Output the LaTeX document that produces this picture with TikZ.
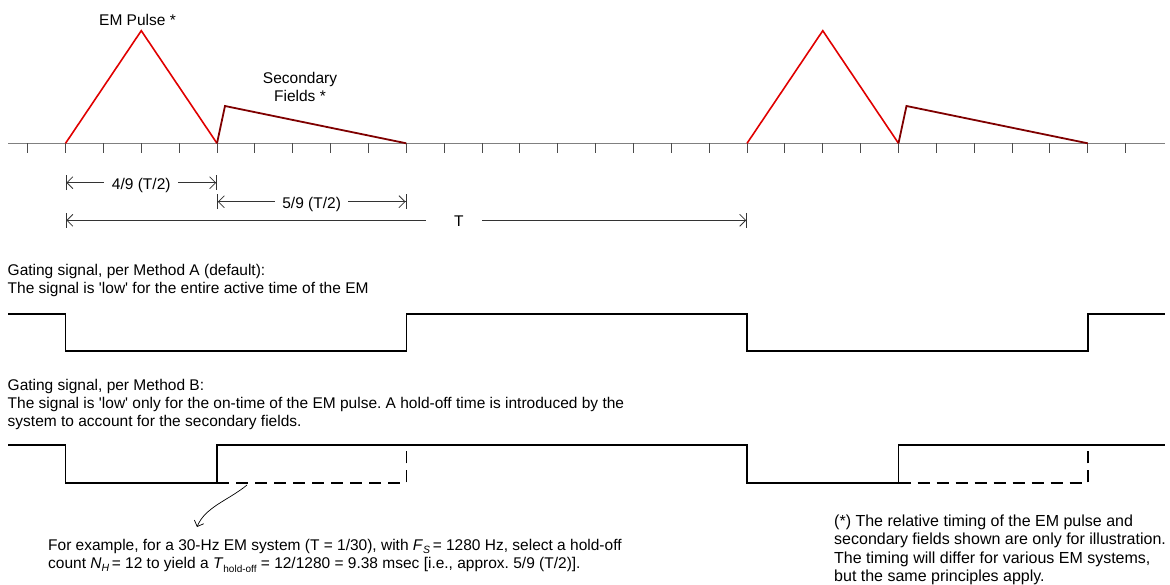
\documentclass[tikz,border=0pt]{standalone}
\usepackage{fontspec}
\setmainfont{Liberation Sans}
\usetikzlibrary{arrows.meta}
\definecolor{pulsered}{HTML}{E00000}
\definecolor{secred}{HTML}{7F0000}
\definecolor{axisgray}{HTML}{808080}
\newcommand{\mysub}[2][3.5pt]{\raisebox{-#1}{\fontsize{10.5}{10.5}\selectfont #2}}
\frenchspacing
\begin{document}
\begin{tikzpicture}[x=1pt,y=-1pt,
  txt/.style={font=\fontsize{15.5}{18.4}\selectfont, inner sep=0pt, anchor=base west},
  ctxt/.style={font=\fontsize{15.5}{18.4}\selectfont, inner sep=0pt, anchor=base},
  fntxt/.style={font=\fontsize{16}{18.4}\selectfont, inner sep=0pt, anchor=base west},
  axisline/.style={draw=axisgray, line width=1.5pt},
  tickmark/.style={draw=black!70, line width=1pt},
  pulse/.style={draw=pulsered, line width=1.6pt, line join=miter},
  secondary/.style={draw=secred, line width=1.8pt, line join=miter},
  dimline/.style={draw=black!80, line width=0.8pt,
    {Bar[width=15pt]Straight Barb[length=6pt,width=12pt]}-{Straight Barb[length=6pt,width=12pt]Bar[width=15pt]}},
  dimlabel/.style={fill=white, inner xsep=7.5pt, inner ysep=0pt, anchor=base, yshift=-6.5pt,
    font=\fontsize{15.5}{18.4}\selectfont},
  gate/.style={draw=black, line width=1.5pt, line join=miter},
  holdoff/.style={draw=black, line width=1.5pt, dash pattern=on 12pt off 7pt},
  note/.style={draw=black, line width=0.7pt, -{Straight Barb[length=5pt,width=10pt]}}
]
\useasboundingbox (0,0) rectangle (1170,584);

% ---------- time axis ----------
\coordinate (ax0) at (8,143.3);
\coordinate (ax1) at (1165,143.3);
\draw[axisline] (ax0) -- (ax1);
\foreach \i in {0,...,29}{
  \coordinate (t\i) at ({27.7+37.86*\i},143.3);
  \draw[tickmark] (t\i) -- ++(0,10);
}

% ---------- pulses ----------
\coordinate (pk1) at ({27.7+37.86*3},30.7);
\coordinate (pk2) at ({27.7+37.86*21},30.7);
\coordinate (sf1) at ({27.7+37.86*5+8},106);
\coordinate (sf2) at ({27.7+37.86*23+8},106);
\draw[pulse] (t1) -- (pk1) -- (t5);
\draw[pulse] (t19) -- (pk2) -- (t23);
\draw[secondary] (t5) -- (sf1) -- (t10);
\draw[secondary] (t23) -- (sf2) -- (t28);

\node[ctxt] (lblem) at (137.5,25) {EM Pulse *};
\node[ctxt] (lblsec1) at (300,83) {Secondary};
\node[ctxt] (lblsec2) at (300,101.5) {Fields *};

% ---------- dimensions ----------
\coordinate (d1a) at (65.56,182.7);
\coordinate (d1b) at (217.0,182.7);
\coordinate (d2a) at (217.0,201.7);
\coordinate (d2b) at (406.3,201.7);
\coordinate (d3a) at (65.56,220.3);
\coordinate (d3b) at (747.04,220.3);
\draw[dimline] (d1a) -- node[dimlabel, pos=0.5] (lbl49) {4/9 (T/2)} (d1b);
\draw[dimline] (d2a) -- node[dimlabel, pos=0.5] (lbl59) {5/9 (T/2)} (d2b);
\draw[dimline] (d3a) -- node[dimlabel, pos=0.5696, inner xsep=0pt, text width=56pt, align=left] (lblT) {\hspace*{28.4pt}T} (d3b);

% ---------- Method A ----------
\node[txt] (ta1) at (7.5,275) {Gating signal, per Method A (default):};
\node[txt] (ta2) at (7.5,293.4) {The signal is \textquotesingle low\textquotesingle\ for the entire active time of the EM};
\draw[gate] (8,314) -- (65.56,314) -- (65.56,351) -- (406.3,351) -- (406.3,314)
  -- (747.04,314) -- (747.04,351) -- (1087.8,351) -- (1087.8,314) -- (1165,314);

% ---------- Method B ----------
\node[txt] (tb1) at (7.5,390) {Gating signal, per Method B:};
\node[txt] (tb2) at (7.5,408.4) {The signal is \textquotesingle low\textquotesingle\ only for the on-time of the EM pulse. A hold-off time is introduced by the};
\node[txt] (tb3) at (7.5,426.8) {system to account for the secondary fields.};
\draw[gate] (8,445) -- (65.56,445) -- (65.56,483) -- (217.0,483) -- (217.0,445)
  -- (747.04,445) -- (747.04,483) -- (898.5,483) -- (898.5,445) -- (1165,445);
\draw[holdoff] (217.0,483) -- (406.3,483) -- (406.3,445);
\draw[holdoff] (898.5,483) -- (1087.8,483) -- (1087.8,445);

% ---------- example note ----------
\coordinate (hoff) at (247,485);
\coordinate (exend) at (197,527);
\draw[note] (hoff) .. controls (229,500) and (205,507) .. (exend);
\node[txt] (ex1) at (48,550) {For example, for a 30-Hz EM system (T = 1/30), with \textit{F}\mysub{\textit{S}}\,= 1280 Hz, select a hold-off};
\node[txt] (ex2) at (48,568.4) {count \textit{N}\mysub{\textit{H}}\,= 12 to yield a \textit{T}\mysub[4pt]{\fontsize{10}{10}\selectfont hold-off} = 12/1280 = 9.38 msec [i.e., approx. 5/9 (T/2)].};

% ---------- footnote ----------
\node[fntxt] (fn1) at (834,526.5) {(*) The relative timing of the EM pulse and};
\node[fntxt] (fn2) at (834,544.9) {secondary fields shown are only for illustration.};
\node[fntxt] (fn3) at (834,563.3) {The timing will differ for various EM systems,};
\node[fntxt] (fn4) at (834,581.5) {but the same principles apply.};
\end{tikzpicture}
\end{document}
